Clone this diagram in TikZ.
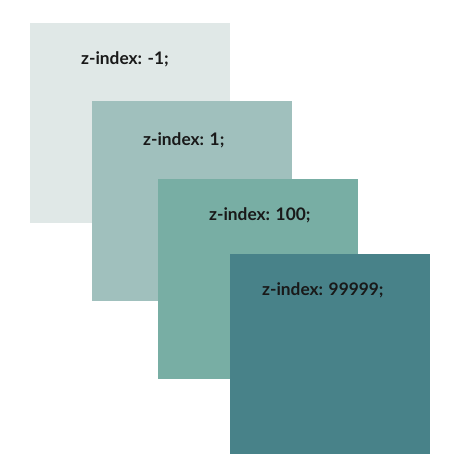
\documentclass[tikz,border=0pt]{standalone}
\usepackage{fontspec}
\setmainfont{Lato}
\usetikzlibrary{positioning}

\def\side{200pt}
\colorlet{layer low}{rgb,255:red,224;green,232;blue,231}
\colorlet{layer one}{rgb,255:red,160;green,192;blue,189}
\colorlet{layer mid}{rgb,255:red,120;green,174;blue,164}
\colorlet{layer top}{rgb,255:red,72;green,130;blue,137}
\tikzset{
  layer/.style={rectangle, anchor=north west, minimum size=\side, inner sep=0pt, draw=none},
  zlabel/.style={anchor=west, inner sep=0pt, font=\fontsize{17.3}{19}\selectfont\bfseries, text=black!90}
  }

\begin{document}
\begin{tikzpicture}[x=1pt,y=-1pt]
   \useasboundingbox (0,0) rectangle (458,475);

   % squares, drawn back to front
   \node[layer, fill=layer low] (low) at (30,23) {};
   \node[layer, fill=layer one] (one) at (92,101) {};
   \node[layer, fill=layer mid] (mid) at (158,179) {};
   \node[layer, fill=layer top] (top) at (230,254) {};

   \node[zlabel] (lowtext) at ([shift={(51pt,-36pt)}]low.north west) {z-index: -1;};
   \node[zlabel] (onetext) at ([shift={(51pt,-39pt)}]one.north west) {z-index: 1;};
   \node[zlabel] (midtext) at ([shift={(51pt,-36pt)}]mid.north west) {z-index: 100;};
   \node[zlabel] (toptext) at ([shift={(32pt,-36pt)}]top.north west) {z-index: 99999;};
\end{tikzpicture}
\end{document}
